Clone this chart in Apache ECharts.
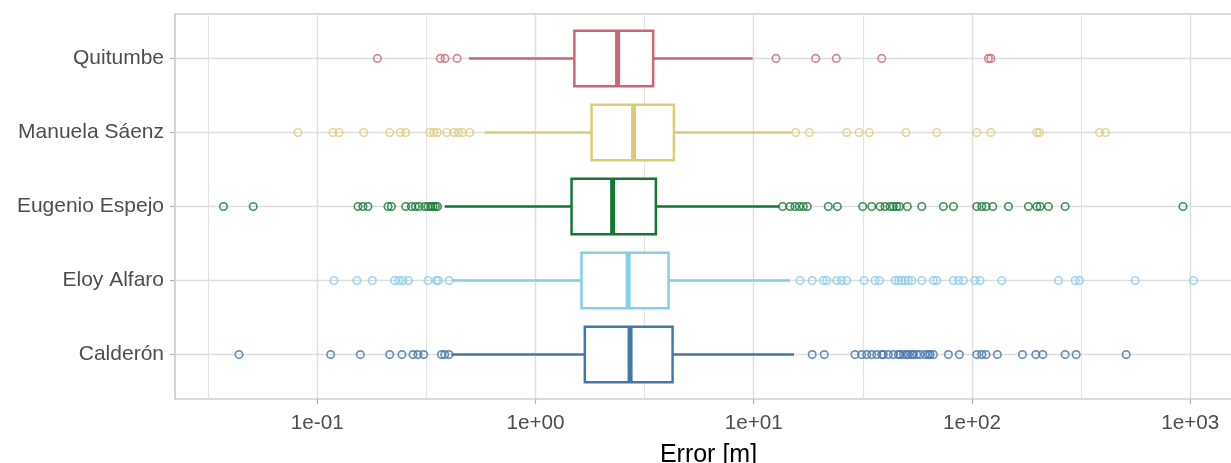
<!DOCTYPE html>
<html><head><meta charset="utf-8">
<script src="https://cdn.jsdelivr.net/npm/echarts@6/dist/echarts.min.js"></script>
<style>html,body{margin:0;padding:0;background:#fff}#c{width:1231px;height:463px}</style>
</head><body><div id="c"></div>
<script>
// ---- data (raw values, metres) ----
const CATEGORIES = ['Calderón', 'Eloy Alfaro', 'Eugenio Espejo', 'Manuela Sáenz', 'Quitumbe'];
const COLORS = ['#4477AA', '#88CCEE', '#117733', '#DDCC77', '#CC6677'];

const WHISKER_LOW  = [0.412, 0.4164, 0.3838, 0.5855, 0.496];
const Q1           = [1.683, 1.625, 1.463, 1.806, 1.507];
const MEDIAN       = [2.713, 2.658, 2.257, 2.814, 2.378];
const Q3           = [4.248, 4.072, 3.561, 4.307, 3.461];
const WHISKER_HIGH = [15.29, 14.66, 13.09, 14.81, 9.886];

const OUTLIERS_CALDERON = [0.0438, 0.1152, 0.1576, 0.2148, 0.2445, 0.2747, 0.2894, 0.3074, 0.3707, 0.3838, 0.4018,
  18.54, 21.05, 29.11, 31.24, 32.94, 34.72, 36.6, 38.59, 39.25, 41.38, 43.61, 45.98, 46.8, 48.47, 50.23, 51.09,
  52.97, 53.86, 55.84, 57.81, 60.95, 63.1, 64.26, 66.53, 77.95, 87.55, 105.2, 110.9, 116.0, 130.7, 170.2, 196.1,
  211.1, 267.2, 300.2, 508.9];
const OUTLIERS_ELOY = [0.1193, 0.152, 0.1789, 0.2264, 0.2369, 0.2471, 0.2617, 0.3218, 0.3516, 0.3591, 0.4018,
  16.29, 18.54, 20.83, 21.59, 23.99, 25.29, 26.67, 32.02, 35.95, 37.62, 44.41, 45.98, 47.66, 49.35, 51.09, 52.95,
  58.86, 66.53, 68.96, 82.17, 86.62, 91.32, 103.3, 108.9, 136.9, 249.0, 297.0, 310.9, 559.6, 1035];
const OUTLIERS_EUGENIO = [0.0372, 0.0509, 0.1537, 0.162, 0.1708, 0.211, 0.2187, 0.2542, 0.27, 0.2817, 0.2926,
  0.3107, 0.3218, 0.3311, 0.3392, 0.3479, 0.3554,
  13.57, 14.66, 15.45, 16.17, 16.87, 17.6, 21.96, 24.15, 31.57, 34.72, 37.9, 39.96, 42.12, 43.61, 45.2, 46.47,
  50.56, 58.88, 73.93, 82.19, 105.2, 110.9, 116.1, 124.5, 146.9, 181.4, 198.2, 205.2, 224.0, 267.2, 925.7];
const OUTLIERS_MANUELA = [0.0816, 0.118, 0.1258, 0.1632, 0.2147, 0.2404, 0.2542, 0.3277, 0.3418, 0.3554, 0.3921,
  0.4235, 0.4436, 0.4627, 0.4996,
  15.56, 17.97, 26.67, 30.36, 33.85, 49.86, 68.93, 105.2, 122, 198.2, 203.8, 383.8, 408.9];
const OUTLIERS_QUITUMBE = [0.1887, 0.3667, 0.385, 0.437, 12.64, 19.22, 23.89, 38.59, 118.9, 122.0];
const OUTLIERS = [OUTLIERS_CALDERON, OUTLIERS_ELOY, OUTLIERS_EUGENIO, OUTLIERS_MANUELA, OUTLIERS_QUITUMBE];

const TICK_VALUES = [0.1, 1, 10, 100, 1000];
const TICK_LABELS = ['1e-01', '1e+00', '1e+01', '1e+02', '1e+03'];

// ---- build ----
const L = Math.log10;
let all = [];
OUTLIERS.forEach(a => all = all.concat(a));
all = all.concat(WHISKER_LOW, WHISKER_HIGH);
const lmin = L(Math.min(...all)), lmax = L(Math.max(...all));
const pad = (lmax - lmin) * 0.05;
const XMIN = lmin - pad, XMAX = lmax + pad;

const BOX_W = 0.75, LW = 2.5;
const FONT = 'Liberation Sans';

const boxData = CATEGORIES.map((c, i) => [i, L(WHISKER_LOW[i]), L(Q1[i]), L(MEDIAN[i]), L(Q3[i]), L(WHISKER_HIGH[i])]);

function renderBox(params, api) {
  const i = api.value(0);
  const c = COLORS[i];
  const lo = api.coord([api.value(1), i]);
  const q1 = api.coord([api.value(2), i]);
  const md = api.coord([api.value(3), i]);
  const q3 = api.coord([api.value(4), i]);
  const hi = api.coord([api.value(5), i]);
  const h = api.size([0, BOX_W])[1];
  const y = lo[1];
  return {type: 'group', children: [
    {type: 'line', shape: {x1: lo[0], y1: y, x2: q1[0], y2: y}, style: {stroke: c, lineWidth: LW}},
    {type: 'line', shape: {x1: q3[0], y1: y, x2: hi[0], y2: y}, style: {stroke: c, lineWidth: LW}},
    {type: 'rect', shape: {x: q1[0], y: y - h / 2, width: q3[0] - q1[0], height: h}, style: {fill: '#fff', stroke: c, lineWidth: LW}},
    {type: 'line', shape: {x1: md[0], y1: y - h / 2, x2: md[0], y2: y + h / 2}, style: {stroke: c, lineWidth: LW * 2}}
  ]};
}

const series = [{
  type: 'custom',
  renderItem: renderBox,
  data: boxData,
  encode: {x: [1, 2, 3, 4, 5], y: 0},
  z: 3,
  silent: true
}];
OUTLIERS.forEach((arr, i) => {
  series.push({
    type: 'scatter',
    data: arr.map(v => [L(v), i]),
    symbol: 'circle',
    symbolSize: 7.5,
    itemStyle: {color: 'rgba(0,0,0,0)', borderColor: COLORS[i], borderWidth: 1.6},
    z: 4,
    silent: true
  });
});

const tickLog = TICK_VALUES.map(L);
function xLabel(v) {
  for (let k = 0; k < tickLog.length; k++) if (Math.abs(v - tickLog[k]) < 1e-6) return TICK_LABELS[k];
  return '';
}
function yLabel(v) {
  const r = Math.round(v);
  return Math.abs(v - r) < 1e-6 && CATEGORIES[r] !== undefined ? CATEGORIES[r] : '';
}

const chart = echarts.init(document.getElementById('c'), null, {renderer: 'canvas'});
chart.setOption({
  animation: false,
  backgroundColor: '#fff',
  grid: {left: 175, top: 14, width: 1067, height: 385, outerBoundsMode: 'none', containLabel: false,
    show: true, borderColor: '#b8b8b8', borderWidth: 1.2, backgroundColor: 'transparent'},
  xAxis: {
    type: 'value', min: XMIN, max: XMAX, splitNumber: 5, position: 'bottom',
    name: 'Error [m]', nameLocation: 'middle', nameGap: 44,
    nameTextStyle: {fontFamily: FONT, fontSize: 25, color: '#000'},
    axisLine: {show: false, onZero: false},
    axisTick: {show: true, length: 5, lineStyle: {color: '#b3b3b3', width: 1.2}, customValues: tickLog},
    axisLabel: {margin: 14, fontFamily: FONT, fontSize: 20.7, color: '#4d4d4d', formatter: xLabel, customValues: tickLog},
    splitLine: {show: true, lineStyle: {color: '#dedede', width: 1.4}},
    minorTick: {show: false, splitNumber: 2},
    minorSplitLine: {show: true, lineStyle: {color: '#e3e3e3', width: 1.1}}
  },
  yAxis: {
    type: 'value', min: -0.6, max: 4.6, splitNumber: 5, position: 'left',
    axisLine: {show: false, onZero: false},
    axisTick: {show: true, length: 5, lineStyle: {color: '#b3b3b3', width: 1.2}, customValues: [0, 1, 2, 3, 4]},
    axisLabel: {margin: 11, fontFamily: FONT, fontSize: 21, color: '#4d4d4d', formatter: yLabel, customValues: [0, 1, 2, 3, 4]},
    splitLine: {show: true, lineStyle: {color: '#dedede', width: 1.4}}
  },
  series: series
});
</script></body></html>
